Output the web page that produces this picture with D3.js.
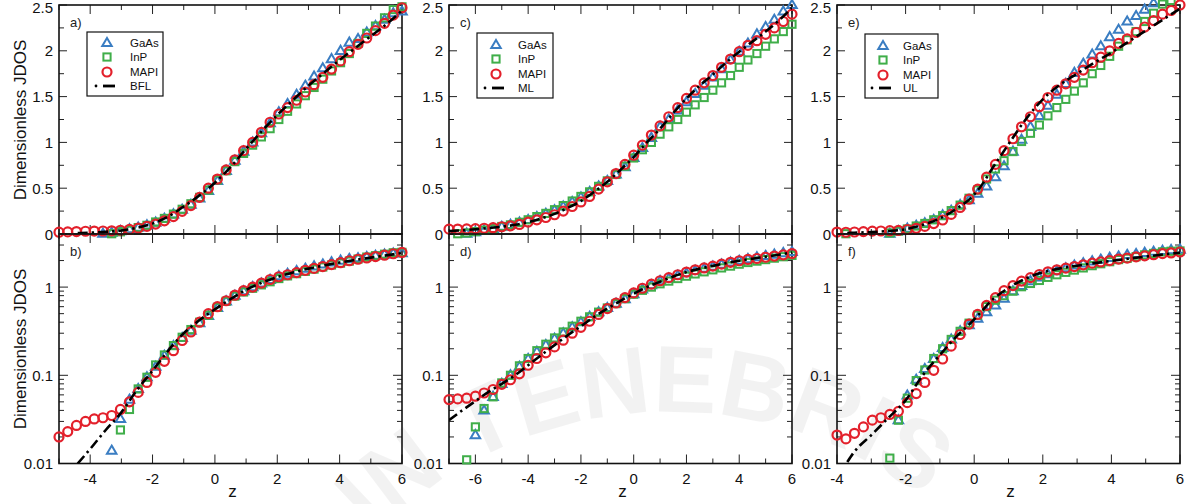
<!DOCTYPE html>
<html>
<head>
<meta charset="utf-8">
<script src="https://cdn.jsdelivr.net/npm/d3@7"></script>
<style>
  html, body { margin: 0; padding: 0; background: #fff; }
  svg { display: block; font-family: "Liberation Sans", Arial, sans-serif; }
</style>
</head>
<body>
<svg id="chart" width="1195" height="504"></svg>
<script>
// ---- Data: dimensionless JDOS versus reduced energy z ----
const seriesNames = ["GaAs", "InP", "MAPI"];

// Panels a) / b): BFL
const zA = [-5.00,-4.72,-4.44,-4.15,-3.87,-3.59,-3.31,-3.03,-2.74,-2.46,-2.18,-1.90,-1.62,-1.33,-1.05,-0.77,-0.49,-0.21,0.08,0.36,
            0.64,0.92,1.21,1.49,1.77,2.05,2.33,2.62,2.90,3.18,3.46,3.74,4.03,4.31,4.59,4.87,5.15,5.44,5.72,6.00];
const gaasA = [null,null,null,null,null,0.003,0.014,0.032,0.053,0.070,0.095,0.125,0.167,0.215,0.265,0.32,0.39,0.47,0.58,0.69,
               0.80,0.90,1.00,1.10,1.21,1.33,1.42,1.52,1.62,1.72,1.81,1.91,2.00,2.09,2.13,2.20,2.27,2.34,2.41,2.43];
const inpA  = [null,null,null,null,null,null,0.003,0.024,0.041,0.070,0.095,0.131,0.170,0.217,0.27,0.33,0.40,0.48,0.59,0.69,
               0.79,0.88,0.97,1.06,1.15,1.25,1.34,1.42,1.51,1.60,1.69,1.78,1.87,1.97,2.08,2.19,2.27,2.36,2.45,2.48];
const mapiA = [0.020,0.023,0.027,0.030,0.032,0.033,0.035,0.041,0.050,0.064,0.083,0.108,0.144,0.190,0.248,0.31,0.40,0.50,0.60,0.70,
               0.81,0.91,1.00,1.11,1.22,1.31,1.38,1.46,1.55,1.63,1.71,1.80,1.89,1.99,2.07,2.14,2.22,2.30,2.39,2.47];
const blfZ = [-4.4,-4,-3.5,-3,-2.5,-2,-1.5,-1,-0.5,0,0.5,1,1.5,2,2.5,3,3.5,4,4.5,5,5.5,6];
const blfV = [0.010,0.0146,0.024,0.038,0.068,0.113,0.19,0.30,0.42,0.56,0.73,0.93,1.12,1.30,1.46,1.62,1.76,1.90,2.03,2.16,2.29,2.44];

// Panels c) / d): ML
const zC = [-7.00,-6.67,-6.33,-6.00,-5.67,-5.33,-5.00,-4.67,-4.33,-4.00,-3.67,-3.33,-3.00,-2.67,-2.33,-2.00,-1.67,-1.33,-1.00,-0.67,
            -0.33,0.00,0.33,0.67,1.00,1.33,1.67,2.00,2.33,2.67,3.00,3.33,3.67,4.00,4.33,4.67,5.00,5.33,5.67,6.00];
const gaasC = [null,null,0.005,0.021,0.040,0.057,0.080,0.100,0.125,0.153,0.185,0.22,0.26,0.30,0.35,0.40,0.46,0.52,0.58,0.65,
               0.73,0.83,0.94,1.05,1.17,1.25,1.35,1.44,1.53,1.62,1.71,1.80,1.90,1.99,2.08,2.18,2.26,2.34,2.43,2.50];
const inpC  = [null,0.003,0.011,0.026,0.042,0.057,0.082,0.100,0.128,0.155,0.19,0.225,0.265,0.31,0.36,0.41,0.46,0.52,0.58,0.65,
               0.74,0.83,0.92,1.00,1.09,1.17,1.25,1.33,1.41,1.49,1.57,1.65,1.73,1.82,1.90,1.97,2.05,2.13,2.21,2.29];
const mapiC = [0.053,0.054,0.055,0.058,0.063,0.069,0.079,0.089,0.104,0.130,0.155,0.18,0.21,0.25,0.30,0.35,0.41,0.49,0.57,0.66,
               0.76,0.86,0.97,1.08,1.18,1.28,1.38,1.48,1.57,1.65,1.73,1.82,1.91,1.99,2.06,2.11,2.18,2.25,2.32,2.40];
const mlZ = [-7,-6.5,-6,-5.5,-5,-4.5,-4,-3.5,-3,-2.5,-2,-1.5,-1,-0.5,0,0.5,1,1.5,2,2.5,3,3.5,4,4.5,5,5.5,6];
const mlV = [0.031,0.040,0.051,0.065,0.080,0.10,0.13,0.17,0.22,0.285,0.36,0.46,0.57,0.70,0.84,1.00,1.15,1.32,1.48,1.62,1.74,1.87,1.99,2.10,2.21,2.33,2.47];

// Panels e) / f): UL
const zE = [-4.00,-3.74,-3.49,-3.23,-2.97,-2.72,-2.46,-2.21,-1.95,-1.69,-1.44,-1.18,-0.92,-0.67,-0.41,-0.15,0.10,0.36,0.62,0.87,
            1.13,1.38,1.64,1.90,2.15,2.41,2.67,2.92,3.18,3.44,3.69,3.95,4.21,4.46,4.72,4.97,5.23,5.49,5.74,6.00];
const gaasE = [null,null,null,null,null,null,0.003,0.031,0.059,0.089,0.118,0.153,0.204,0.255,0.316,0.37,0.44,0.52,0.62,0.74,
               0.90,1.03,1.17,1.29,1.40,1.52,1.64,1.76,1.86,1.96,2.05,2.15,2.23,2.32,2.38,2.45,2.52,2.58,2.63,2.66];
const inpE  = [null,0.003,null,null,null,null,0.0115,0.031,0.055,0.087,0.115,0.155,0.20,0.255,0.315,0.39,0.48,0.60,0.71,0.80,
               0.90,1.01,1.10,1.19,1.29,1.38,1.47,1.56,1.65,1.75,1.84,1.94,2.05,2.12,2.21,2.32,2.41,2.51,2.55,2.57];
const mapiE = [0.021,0.019,0.022,0.026,0.031,0.033,0.036,0.039,0.049,0.062,0.083,0.114,0.153,0.214,0.29,0.38,0.49,0.62,0.76,0.91,
               1.04,1.17,1.28,1.39,1.49,1.57,1.64,1.71,1.79,1.87,1.93,2.00,2.08,2.13,2.20,2.26,2.33,2.40,2.44,2.50];
const ulZ = [-3.7,-3.5,-3,-2.5,-2,-1.5,-1,-0.5,0,0.25,0.5,0.75,1,1.5,2,2.5,3,3.5,4,4.5,5,5.5,6];
const ulV = [0.0104,0.0135,0.021,0.033,0.052,0.10,0.17,0.28,0.43,0.55,0.70,0.84,0.98,1.25,1.47,1.63,1.75,1.87,1.98,2.10,2.22,2.34,2.46];

// Axis ticks
const linTickLabels = ["0", "0.5", "1", "1.5", "2", "2.5"];
const logTickLabels = ["0.01", "0.1", "1"];
const xTickLabelsA = ["-4", "-2", "0", "2", "4", "6"];
const xTickLabelsC = ["-6", "-4", "-2", "0", "2", "4", "6"];
const xTickLabelsE = ["-4", "-2", "0", "2", "4", "6"];

// Seal motto printed faintly behind the plots
const sealMotto = "LUX IN TENEBRIS";

// ---- Layout ----
const svg = d3.select("#chart");
const topY0 = 5, midY = 234, botY1 = 463.5;
const colors = { GaAs: "#3a7dc2", InP: "#3fae49", MAPI: "#e3202b" };

// Faint background seal text along a circular arc (baseline)
(function drawSeal() {
  const cx = 670, cy = 827, r = 415;
  const deg = Math.PI / 180;
  const a0 = -80 * deg, a1 = 80 * deg;   // measured from the top of the circle
  const pt = a => [cx + r * Math.sin(a), cy - r * Math.cos(a)];
  const p0 = pt(a0), p1 = pt(a1);
  svg.append("defs").append("path").attr("id", "sealArc")
    .attr("d", `M${p0[0]},${p0[1]} A${r},${r} 0 0 1 ${p1[0]},${p1[1]}`);
  svg.append("text").attr("font-size", 95).attr("font-weight", "bold")
    .attr("fill", "#000").attr("fill-opacity", 0.05)
    .append("textPath").attr("href", "#sealArc").attr("startOffset", 34)
    .text(sealMotto);
})();

const columns = [
  { x0: 59,  x1: 402, dom: [-5, 6], z: zA, s: [gaasA, inpA, mapiA], fz: blfZ, fv: blfV, fit: "BFL",
    letters: ["a)", "b)"], xt: xTickLabelsA, leg: { x: 87, y: 32, w: 76, h: 64, mx: 107, tx: 130, ys: [43, 57, 72, 86] } },
  { x0: 449, x1: 792, dom: [-7, 6], z: zC, s: [gaasC, inpC, mapiC], fz: mlZ, fv: mlV, fit: "ML",
    letters: ["c)", "d)"], xt: xTickLabelsC, leg: { x: 477, y: 33, w: 76, h: 65, mx: 496, tx: 518, ys: [45, 59, 74, 88] } },
  { x0: 837, x1: 1180, dom: [-4, 6], z: zE, s: [gaasE, inpE, mapiE], fz: ulZ, fv: ulV, fit: "UL",
    letters: ["e)", "f)"], xt: xTickLabelsE, leg: { x: 865, y: 34, w: 73, h: 64, mx: 883, tx: 903, ys: [46, 60, 75, 88] } }
];

function marker(g, name, x, y) {
  if (name === "GaAs") {
    const s = 5;
    g.append("path")
      .attr("d", `M${x},${y - s} L${x + s * 0.95},${y + s * 0.62} L${x - s * 0.95},${y + s * 0.62} Z`)
      .attr("fill", "none").attr("stroke", colors.GaAs).attr("stroke-width", 2);
  } else if (name === "InP") {
    const s = 3.6;
    g.append("rect").attr("x", x - s).attr("y", y - s).attr("width", 2 * s).attr("height", 2 * s)
      .attr("fill", "none").attr("stroke", colors.InP).attr("stroke-width", 2);
  } else {
    g.append("circle").attr("cx", x).attr("cy", y).attr("r", 4.5)
      .attr("fill", "none").attr("stroke", colors.MAPI).attr("stroke-width", 2.2);
  }
}

const fitDash = "10,4,2.4,4";

columns.forEach((col, ci) => {
  const x = d3.scaleLinear().domain(col.dom).range([col.x0, col.x1]);
  const yLin = d3.scaleLinear().domain([0, 2.5]).range([midY, topY0]);
  const yLog = d3.scaleLog().domain([0.01, 4]).range([botY1, midY]);

  const panels = [
    { y: yLin, y0: topY0, y1: midY, log: false, letter: col.letters[0] },
    { y: yLog, y0: midY, y1: botY1, log: true, letter: col.letters[1] }
  ];

  panels.forEach((p, pi) => {
    const g = svg.append("g");
    const clipId = `clip-${ci}-${pi}`;
    svg.append("clipPath").attr("id", clipId)
      .append("rect").attr("x", col.x0).attr("y", p.y0).attr("width", col.x1 - col.x0).attr("height", p.y1 - p.y0);

    // Ticks, inward on all four sides
    const ticks = g.append("g").attr("stroke", "#222").attr("stroke-width", 1);
    const xMin = Math.ceil(col.dom[0]), xMax = Math.floor(col.dom[1]);
    for (let v = xMin; v <= xMax; v++) {
      const len = (v % 2 === 0) ? 9 : 5;
      const px = x(v);
      ticks.append("line").attr("x1", px).attr("x2", px).attr("y1", p.y1).attr("y2", p.y1 - len);
      ticks.append("line").attr("x1", px).attr("x2", px).attr("y1", p.y0).attr("y2", p.y0 + len);
    }
    if (!p.log) {
      for (let k = 0; k <= 10; k++) {
        const v = k * 0.25;
        const len = (k % 2 === 0) ? 8 : 5;
        const py = p.y(v);
        ticks.append("line").attr("x1", col.x0).attr("x2", col.x0 + len).attr("y1", py).attr("y2", py);
        ticks.append("line").attr("x1", col.x1).attr("x2", col.x1 - len).attr("y1", py).attr("y2", py);
      }
    } else {
      [0.01, 0.1, 1].forEach(dec => {
        for (let m = 1; m <= 9; m++) {
          const v = dec * m;
          if (v > 4) continue;
          const len = (m === 1) ? 9 : 5;
          const py = p.y(v);
          ticks.append("line").attr("x1", col.x0).attr("x2", col.x0 + len).attr("y1", py).attr("y2", py);
          ticks.append("line").attr("x1", col.x1).attr("x2", col.x1 - len).attr("y1", py).attr("y2", py);
        }
      });
    }

    // Frame
    g.append("rect").attr("x", col.x0).attr("y", p.y0)
      .attr("width", col.x1 - col.x0).attr("height", p.y1 - p.y0)
      .attr("fill", "none").attr("stroke", "#111").attr("stroke-width", 1.6);

    // Y tick labels (the topmost one is kept inside the picture)
    const labs = p.log ? logTickLabels : linTickLabels;
    labs.forEach(t => {
      const v = +t;
      g.append("text").attr("x", col.x0 - 6).attr("y", Math.max(p.y(v), 7.5))
        .attr("text-anchor", "end").attr("dominant-baseline", "central")
        .attr("font-size", 15).attr("fill", "#111").text(t);
    });

    // Data markers
    const marks = g.append("g");
    seriesNames.forEach((name, si) => {
      const vals = col.s[si];
      vals.forEach((v, i) => {
        if (v === null) return;
        if (p.log && v < 0.0095) return;
        if (!p.log && v > 2.55) return;
        marker(marks, name, x(col.z[i]), p.y(v));
      });
    });

    // Fit line (dash-dot)
    const pts = col.fz.map((z, i) => [z, col.fv[i]]);
    const line = d3.line().x(d => x(d[0])).y(d => p.y(d[1])).curve(d3.curveMonotoneX);
    g.append("path").attr("d", line(pts)).attr("clip-path", `url(#${clipId})`)
      .attr("fill", "none").attr("stroke", "#000").attr("stroke-width", 2.6)
      .attr("stroke-dasharray", fitDash);

    // Panel letter
    g.append("text").attr("x", col.x0 + 11).attr("y", p.y0 + 22)
      .attr("font-size", 13).attr("fill", "#222").text(p.letter);

    // X tick labels on the lower panel only
    if (p.log) {
      col.xt.forEach(t => {
        g.append("text").attr("x", x(+t)).attr("y", 478)
          .attr("text-anchor", "middle").attr("dominant-baseline", "central")
          .attr("font-size", 15).attr("fill", "#111").text(t);
      });
      g.append("text").attr("x", (col.x0 + col.x1) / 2 + 2).attr("y", 491)
        .attr("text-anchor", "middle").attr("dominant-baseline", "central")
        .attr("font-size", 17).attr("fill", "#111").text("z");
    }
  });

  // Legend
  const L = col.leg;
  const lg = svg.append("g");
  lg.append("rect").attr("x", L.x).attr("y", L.y).attr("width", L.w).attr("height", L.h)
    .attr("fill", "#fff").attr("stroke", "#111").attr("stroke-width", 1.2);
  seriesNames.forEach((name, si) => {
    marker(lg, name, L.mx, L.ys[si]);
    lg.append("text").attr("x", L.tx).attr("y", L.ys[si]).attr("dominant-baseline", "central")
      .attr("font-size", 11.5).attr("fill", "#111").text(name);
  });
  const fy = L.ys[3];
  lg.append("circle").attr("cx", L.mx - 11).attr("cy", fy).attr("r", 1.4).attr("fill", "#000");
  lg.append("line").attr("x1", L.mx - 4).attr("x2", L.mx + 8).attr("y1", fy).attr("y2", fy)
    .attr("stroke", "#000").attr("stroke-width", 2.8);
  lg.append("text").attr("x", L.tx).attr("y", fy).attr("dominant-baseline", "central")
    .attr("font-size", 11.5).attr("fill", "#111").text(col.fit);
});

// Shared y-axis titles on the left column
[[120, "Dimensionless JDOS"], [349, "Dimensionless JDOS"]].forEach(([cy, t]) => {
  svg.append("text").attr("transform", `translate(20,${cy}) rotate(-90)`)
    .attr("text-anchor", "middle").attr("dominant-baseline", "central")
    .attr("font-size", 17).attr("fill", "#111").text(t);
});
</script>
</body>
</html>
